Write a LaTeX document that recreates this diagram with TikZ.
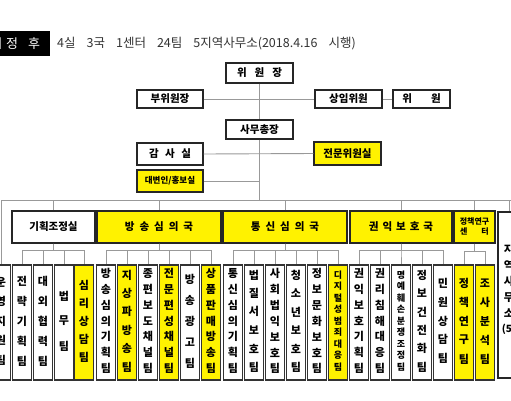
\documentclass[tikz,border=0pt]{standalone}
\usepackage{fontspec}
\newfontfamily\kr{Noto Sans CJK KR}
\usetikzlibrary{calc}
\newcommand\kgap[1][6pt]{\hspace{#1}}
\newcommand\team[7]{%
  \node[#3] (#1) at (#2,322.5) {};
  \foreach \ch [count=\i] in {#7} {
    \node[#4] (#1-\i) at ($(#1.center)+(0,{-1.5-#6/2+(\i-1)*#6/(#5-1)})$) {\ch};
  }
}
\begin{document}
\begin{tikzpicture}[x=1pt,y=-1pt,
  box/.style={draw=black!85, line width=1.3pt, fill=white, inner sep=0pt, font=\kr\bfseries\fontsize{10.5}{12}\selectfont},
  ybox/.style={box, fill=yellow},
  conn/.style={draw=black!40, line width=0.9pt},
  col/.style={draw=black!80, line width=1.1pt, fill=white, minimum width=19pt, minimum height=115pt, inner sep=0pt},
  ycol/.style={col, fill=yellow},
  ctext/.style={inner sep=0pt, font=\kr\bfseries\fontsize{11}{11}\selectfont},
  stext/.style={inner sep=0pt, font=\kr\bfseries\fontsize{9}{9}\selectfont},
]
\useasboundingbox (0,0) rectangle (511,400);
\clip (0,0) rectangle (511,400);
\fill[white] (0,0) rectangle (511,400);

% header
\node[fill=black, minimum width=60pt, minimum height=25pt, inner sep=0pt] (hdr) at (20,43.5) {};
\node[text=white, font=\kr\fontsize{13}{13}\selectfont, inner sep=0pt] (h1) at (-4,44) {개};
\node[text=white, font=\kr\fontsize{13}{13}\selectfont, inner sep=0pt] (h2) at (12,44) {정};
\node[text=white, font=\kr\fontsize{13}{13}\selectfont, inner sep=0pt] (h3) at (34,44) {후};
\node[anchor=west, inner sep=0pt, font=\kr\fontsize{12.5}{12.5}\selectfont, text=black!80] (title) at (57,44) {4실\kgap[11pt]3국\kgap[11pt]1센터\kgap[11pt]24팀\kgap[11pt]5지역사무소(2018.4.16\kgap[11pt]시행)};

% top boxes
\node[box, minimum width=67pt, minimum height=20pt] (chair) at (259.5,73) {위\kgap[8pt]원\kgap[8pt]장};
\node[box, minimum width=66pt, minimum height=18pt] (vice) at (170,99) {부위원장};
\node[box, minimum width=67pt, minimum height=18pt] (stand) at (348.5,99) {상임위원};
\node[box, minimum width=57pt, minimum height=18pt] (mem) at (421.5,99) {위\kgap[19pt]원};
\node[box, minimum width=67pt, minimum height=19pt] (sg) at (259.5,129.5) {사무총장};
\node[box, minimum width=66pt, minimum height=22pt] (audit) at (170,154) {감\kgap[6.5pt]사\kgap[6.5pt]실};
\node[ybox, minimum width=67pt, minimum height=23pt] (expert) at (347.5,153.5) {전문위원실};
\node[ybox, minimum width=66pt, minimum height=22pt, font=\kr\bfseries\fontsize{8.5}{10}\selectfont] (spk) at (170,181) {대변인/홍보실};

% departments
\node[box, minimum width=83pt, minimum height=32pt] (kj) at (53.5,227) {기획조정실};
\node[ybox, minimum width=124pt, minimum height=32pt] (bs) at (159,227) {방\kgap[5pt]송\kgap[5pt]심\kgap[5pt]의\kgap[5pt]국};
\node[ybox, minimum width=124pt, minimum height=32pt] (ts) at (285,227) {통\kgap[5pt]신\kgap[5pt]심\kgap[5pt]의\kgap[5pt]국};
\node[ybox, minimum width=102pt, minimum height=32pt] (kw) at (401,227) {권\kgap[4pt]익\kgap[4pt]보\kgap[4pt]호\kgap[4pt]국};
\node[ybox, minimum width=41pt, minimum height=32pt, align=center, font=\kr\bfseries\fontsize{8}{10}\selectfont] (pr) at (474.5,227) {정책연구\\센\kgap[14pt]터};
\node[box, minimum width=22pt, minimum height=166pt] (reg) at (509,295) {};
\foreach \ch [count=\i] in {지,역,사,무,소} {
  \node[ctext] (reg-\i) at ($(reg.north)+(0,{38+(\i-1)*16})$) {\ch};
}
\node[inner sep=0pt, font=\kr\bfseries\fontsize{10}{10}\selectfont] (reg-6) at ($(reg.north)+(0,118)$) {(5)};

% teams
\team{t0}{1}{col}{ctext}{5}{78}{운,영,지,원,팀}
\team{t1}{22}{col}{ctext}{5}{80}{전,략,기,획,팀}
\team{t2}{43}{col}{ctext}{5}{80}{대,외,협,력,팀}
\team{t3}{64}{col}{ctext}{3}{50}{법,무,팀}
\team{t4}{84}{ycol}{ctext}{5}{72}{심,리,상,담,팀}
\team{t5}{106}{col}{ctext}{7}{95}{방,송,심,의,기,획,팀}
\team{t6}{127}{ycol}{ctext}{6}{92}{지,상,파,방,송,팀}
\team{t7}{148}{col}{ctext}{7}{95}{종,편,보,도,채,널,팀}
\team{t8}{169}{ycol}{ctext}{7}{95}{전,문,편,성,채,널,팀}
\team{t9}{190}{col}{ctext}{5}{84}{방,송,광,고,팀}
\team{t10}{211}{ycol}{ctext}{7}{95}{상,품,판,매,방,송,팀}
\team{t11}{233}{col}{ctext}{7}{95}{통,신,심,의,기,획,팀}
\team{t12}{254}{col}{ctext}{6}{92}{법,질,서,보,호,팀}
\team{t13}{275}{col}{ctext}{7}{95}{사,회,법,익,보,호,팀}
\team{t14}{296}{col}{ctext}{6}{92}{청,소,년,보,호,팀}
\team{t15}{317}{col}{ctext}{7}{95}{정,보,문,화,보,호,팀}
\team{t16}{338}{ycol}{stext}{9}{92}{디,지,털,성,범,죄,대,응,팀}
\team{t17}{359}{col}{ctext}{7}{95}{권,익,보,호,기,획,팀}
\team{t18}{380}{col}{ctext}{7}{95}{권,리,침,해,대,응,팀}
\team{t19}{401}{col}{stext}{9}{92}{명,예,훼,손,분,쟁,조,정,팀}
\team{t20}{422}{col}{ctext}{6}{92}{정,보,건,전,화,팀}
\team{t21}{443}{col}{ctext}{5}{75}{민,원,상,담,팀}
\team{t22}{464}{ycol}{ctext}{5}{76}{정,책,연,구,팀}
\team{t23}{485}{ycol}{ctext}{5}{76}{조,사,분,석,팀}

% connectors
\coordinate (busL) at (1,200);
\coordinate (busR) at (511,200);
\coordinate (jv) at (259.5,181);
\draw[conn] (chair.south) -- (sg.north);
\draw[conn] (vice.east) -- (stand.west);
\draw[conn] (stand.east) -- (mem.west);
\draw[conn] (audit.east) -- (expert.west);
\draw[conn] (spk.east) -- (jv);
\draw[conn] (sg.south) -- (sg.south |- busL);
\draw[conn] (busL) -- (busR);
\draw[conn] (busL) -- (t0.north);
\foreach \d in {kj,bs,ts,kw,pr,reg} \draw[conn] (\d.north |- busL) -- (\d.north);
\foreach \t in {t1,t2,t3,t4} \draw[conn] (kj.south) -- ++(0,7) -| (\t.north);
\foreach \t in {t5,t6,t7,t8,t9,t10} \draw[conn] (bs.south) -- ++(0,7) -| (\t.north);
\foreach \t in {t11,t12,t13,t14,t15,t16} \draw[conn] (ts.south) -- ++(0,7) -| (\t.north);
\foreach \t in {t17,t18,t19,t20,t21} \draw[conn] (kw.south) -- ++(0,7) -| (\t.north);
\foreach \t in {t22,t23} \draw[conn] (pr.south) -- ++(0,8) -| (\t.north);
\end{tikzpicture}
\end{document}
